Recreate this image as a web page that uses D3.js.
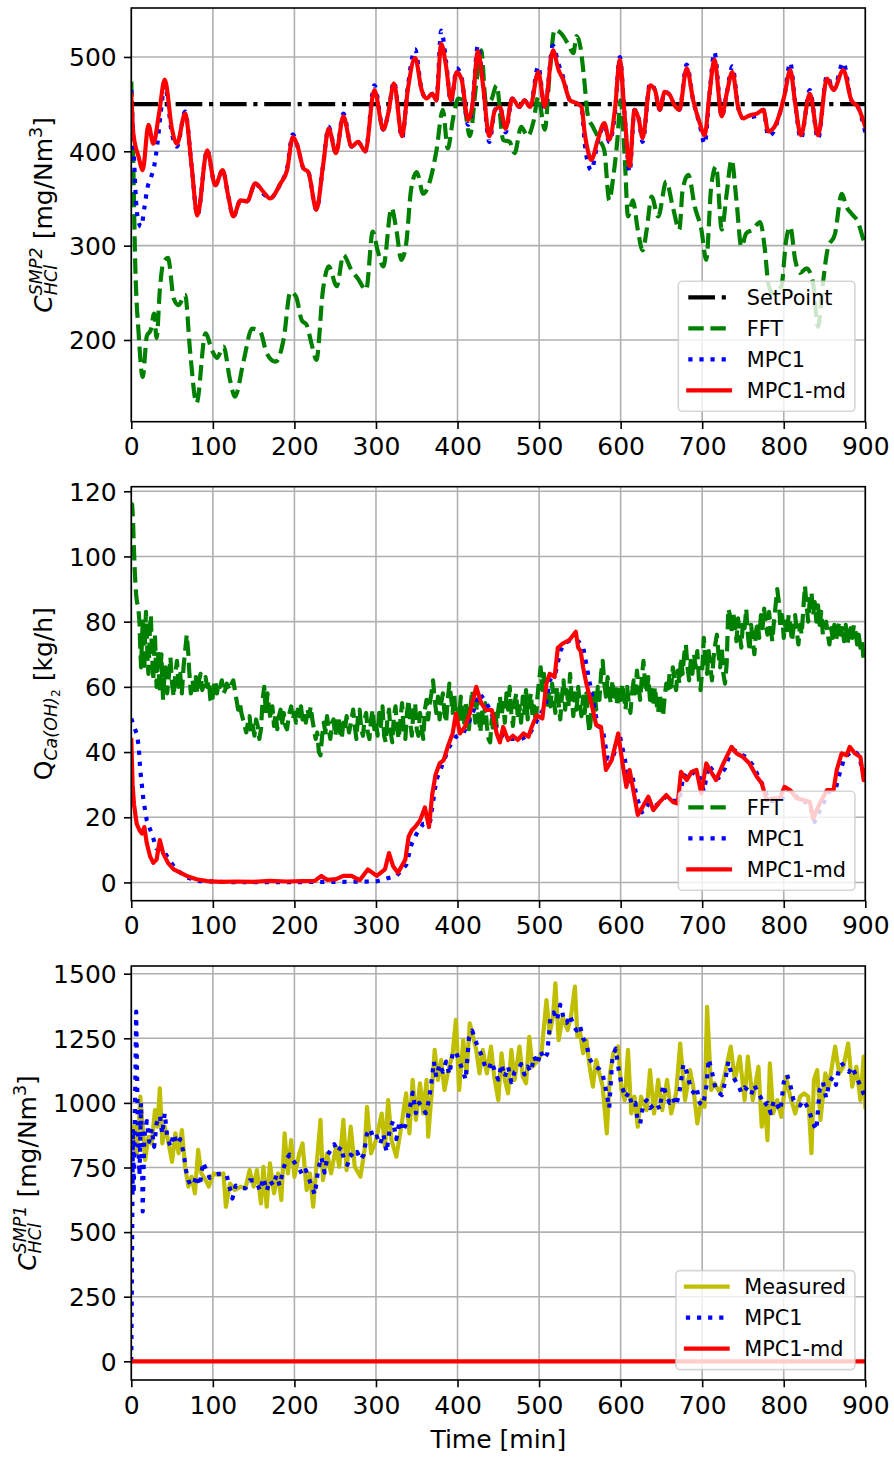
<!DOCTYPE html>
<html>
<head>
<meta charset="utf-8">
<script src="https://cdn.jsdelivr.net/npm/d3@7"></script>
<style>
  body { margin: 0; background: #fff; }
  svg { display: block; font-family: "DejaVu Sans", sans-serif; }
</style>
</head>
<body>
<svg id="fig" width="894" height="1457"></svg>
<script>
// ---- data: [time (min), value] ----
const xTicks = [0, 100, 200, 300, 400, 500, 600, 700, 800, 900];
const p1Ticks = [200, 300, 400, 500];
const p2Ticks = [0, 20, 40, 60, 80, 100, 120];
const p3Ticks = [0, 250, 500, 750, 1000, 1250, 1500];

const setPoint = [[0, 450], [900, 450]];

const p1FFT = [[0,474],[2.5,384],[4.5,292],[9,207],[14,161],[19,204],[24,211],[28,228],[31,202],[35,253],[39,281],[45,287],[52,244],[58,237],[66,248],[72,189],[80,133],[91,207],[99,189],[105,181],[113,193],[121,158],[127,140],[138,179],[148,212],[158,209],[166,186],[177,177],[187,202],[195,251],[202,246],[209,221],[215,216],[221,196],[227,179],[235,253],[242,278],[252,257],[260,290],[270,274],[278,265],[288,253],[296,315],[302,295],[309,278],[319,340],[325,317],[331,285],[337,302],[343,359],[350,378],[358,355],[366,368],[374,400],[382,444],[388,403],[395,437],[401,456],[407,454],[415,416],[423,472],[429,507],[435,451],[441,454],[448,470],[456,412],[464,410],[470,398],[478,426],[486,416],[493,431],[499,458],[507,423],[513,483],[519,529],[527,525],[536,513],[542,504],[546,522],[551,509],[555,479],[560,437],[566,426],[574,412],[580,401],[586,348],[591,373],[596,412],[600,454],[605,394],[609,331],[615,348],[621,317],[627,295],[632,317],[638,352],[646,331],[656,368],[664,341],[672,317],[676,359],[683,375],[691,341],[699,317],[705,285],[711,362],[717,384],[724,317],[730,355],[736,391],[742,348],[748,299],[754,313],[762,317],[771,325],[777,295],[781,260],[787,249],[797,257],[803,306],[808,320],[814,285],[820,271],[828,276],[836,260],[842,214],[848,260],[854,297],[863,313],[871,355],[877,341],[883,334],[891,325],[898,306],[900,302]];

const p1MPC1 = [[0,465],[3,400],[6,345],[9,325],[12,320],[16,340],[20,362],[24,372],[28,384],[32,408],[36,440],[41,470],[50,418],[56,405],[66,442],[74,384],[81,332],[93,401],[103,364],[112,380],[119,352],[125,331],[134,348],[142,347],[152,366],[162,355],[170,350],[183,366],[191,382],[198,418],[204,405],[211,382],[217,378],[227,338],[235,384],[242,426],[251,398],[260,440],[270,405],[278,410],[287,400],[298,470],[309,423],[315,440],[322,474],[332,414],[339,468],[348,508],[356,465],[362,456],[369,461],[374,454],[380,528],[386,495],[392,452],[399,488],[405,478],[413,428],[418,447],[425,512],[431,472],[439,410],[446,444],[452,447],[459,420],[467,456],[476,447],[482,454],[489,447],[499,490],[507,445],[517,512],[524,492],[529,480],[538,454],[546,451],[552,447],[556,408],[560,387],[564,380],[572,410],[580,428],[586,410],[593,440],[599,500],[605,437],[611,378],[617,444],[622,435],[627,410],[636,472],[642,465],[648,444],[654,463],[660,460],[666,449],[672,444],[681,492],[689,454],[697,428],[703,408],[709,461],[715,505],[724,437],[730,461],[737,490],[744,447],[750,435],[758,436],[767,438],[775,444],[781,416],[787,420],[795,440],[801,460],[808,494],[814,451],[821,413],[832,465],[842,413],[853,480],[861,465],[873,494],[883,454],[891,447],[900,420]];

const p1MPC1md = [[0,460],[2.5,419],[9,394],[14,380],[21,428],[27,408],[34,440],[41,476],[50,423],[56,408],[66,440],[74,384],[81,332],[93,401],[103,364],[112,380],[119,352],[125,331],[134,348],[142,347],[152,366],[162,357],[170,350],[183,366],[191,380],[198,415],[204,405],[211,382],[217,378],[227,338],[235,384],[242,424],[251,398],[260,437],[270,405],[278,410],[287,400],[298,465],[309,423],[315,440],[322,472],[332,416],[339,465],[348,499],[356,465],[362,456],[369,461],[374,454],[380,514],[386,490],[392,454],[399,484],[405,476],[413,433],[418,447],[425,506],[431,472],[439,416],[446,444],[452,447],[459,424],[467,456],[476,447],[482,454],[489,447],[499,484],[507,447],[517,507],[524,486],[529,477],[538,454],[546,451],[552,447],[556,419],[560,400],[564,391],[572,412],[580,430],[586,412],[593,444],[599,497],[605,437],[611,384],[617,444],[622,435],[627,414],[636,470],[642,465],[648,444],[654,463],[660,460],[666,449],[672,444],[681,488],[689,454],[697,430],[703,417],[709,461],[715,497],[724,437],[730,461],[737,484],[744,447],[750,435],[758,438],[767,440],[775,444],[781,421],[787,424],[795,440],[801,460],[808,486],[814,451],[821,417],[832,461],[842,417],[853,477],[861,465],[873,486],[883,454],[891,447],[900,426]];

const p2FFT = [[0,115],[1,116],[2,112],[3,104],[4,97],[5,92],[6,88],[7,86],[8,85],[9,83],[10,80],[11,72],[12,66],[13,74],[14,80],[15,70],[16,65],[17,77],[18,83],[19,76],[20,68],[21,64],[22,72],[23,79],[24,82],[25,73],[26,67],[27,62],[28,70],[29,76],[30,68],[31,60],[32,65],[33,71],[34,63],[35,58],[36,66],[37,70],[38,62],[39,56],[40,61],[42,66],[44,58],[46,63],[48,69],[50,61],[52,57],[54,64],[56,68],[58,60],[60,64],[62,58],[64,66],[66,71],[68,76],[70,70],[71,65],[73,58],[75,62],[77,59],[79,63],[81,58],[83,62],[85,64],[87,59],[89,61],[91,63],[93,60],[95,62],[97,56],[99,55],[101,60],[103,62],[105,58],[107,61],[109,60],[111,62],[113,58],[115,59],[117,61],[119,60],[121,59],[123,61],[125,62],[127,59],[129,56],[131,53],[133,55],[135,52],[137,50],[139,48],[141,46],[143,49],[145,51],[147,46],[149,48],[151,45],[153,50],[155,48],[157,44],[159,47],[161,56],[163,60],[165,52],[167,58],[169,53],[171,50],[173,54],[175,48],[177,52],[179,47],[181,51],[183,53],[185,49],[187,52],[189,48],[191,47],[193,51],[196,54],[198,50],[200,52],[202,49],[204,53],[206,51],[208,54],[210,50],[212,52],[214,49],[216,53],[218,51],[220,54],[222,50],[224,47],[226,44],[228,46],[230,40],[232,39],[234,45],[236,49],[238,46],[240,51],[242,47],[244,44],[246,49],[248,50],[250,45],[252,48],[254,51],[256,46],[258,44],[260,49],[262,47],[264,51],[267,46],[270,50],[272,53],[274,48],[276,44],[278,51],[280,53],[282,47],[284,45],[286,50],[288,52],[290,46],[292,44],[294,50],[296,53],[298,47],[300,49],[302,45],[304,52],[306,48],[308,54],[310,45],[312,43],[314,50],[316,53],[318,46],[320,43],[322,51],[324,54],[326,47],[328,44],[330,50],[332,55],[334,47],[336,44],[338,52],[340,56],[342,49],[344,45],[346,53],[348,55],[350,47],[352,45],[354,52],[356,48],[358,44],[360,53],[362,56],[364,50],[366,55],[368,58],[370,62],[372,56],[374,52],[376,57],[378,50],[380,55],[382,58],[384,52],[386,49],[388,56],[390,61],[392,57],[394,52],[396,58],[398,49],[400,54],[402,50],[404,57],[406,52],[408,48],[410,55],[412,51],[414,47],[416,54],[418,59],[420,53],[422,49],[424,56],[426,51],[428,46],[430,53],[432,49],[434,55],[436,48],[438,44],[440,43],[442,50],[444,46],[446,53],[448,48],[450,53],[452,57],[454,51],[456,55],[458,49],[460,58],[462,53],[464,60],[466,52],[468,48],[470,55],[472,58],[474,50],[476,54],[478,49],[480,57],[482,52],[484,59],[486,50],[488,55],[490,58],[492,51],[494,54],[496,49],[498,57],[500,62],[502,66],[504,59],[506,64],[508,58],[510,53],[512,58],[514,54],[516,61],[518,56],[520,52],[522,60],[524,55],[526,50],[528,57],[530,62],[532,53],[534,59],[536,54],[538,64],[540,57],[542,51],[544,58],[546,53],[548,60],[550,55],[552,51],[554,57],[556,52],[558,58],[560,50],[562,46],[564,52],[566,55],[568,59],[570,53],[572,60],[574,56],[576,64],[578,68],[580,61],[582,57],[584,63],[586,58],[588,55],[590,62],[592,57],[594,60],[596,54],[598,59],[600,56],[602,61],[604,57],[606,53],[608,60],[610,55],[612,52],[614,58],[616,62],[618,58],[620,65],[622,60],[624,56],[626,63],[628,68],[630,61],[632,58],[634,63],[636,56],[638,59],[640,54],[642,60],[644,55],[646,52],[648,58],[650,53],[652,51],[654,57],[656,61],[658,58],[660,64],[662,60],[664,66],[666,62],[668,59],[670,65],[672,61],[674,69],[676,64],[678,70],[680,73],[682,66],[684,62],[686,68],[688,64],[690,70],[692,66],[694,71],[696,62],[698,59],[700,65],[702,75],[704,68],[706,64],[708,71],[710,66],[712,62],[714,69],[716,73],[718,76],[720,70],[722,66],[724,72],[726,64],[728,61],[730,67],[732,84],[734,82],[736,77],[738,83],[740,79],[742,74],[744,81],[746,76],[748,72],[750,80],[752,78],[754,84],[756,76],[758,71],[760,79],[762,74],[764,70],[766,77],[768,80],[770,75],[772,82],[774,78],[776,84],[778,79],[780,76],[782,83],[784,78],[786,74],[788,80],[790,85],[792,90],[794,86],[796,78],[798,82],[800,75],[802,80],[804,76],[806,82],[808,79],[810,74],[812,78],[814,82],[816,77],[818,73],[820,79],[822,76],[824,84],[826,91],[828,85],[830,80],[832,87],[834,89],[836,82],[838,86],[840,80],[842,85],[844,79],[846,83],[848,76],[850,78],[852,80],[854,76],[856,73],[858,78],[860,75],[862,79],[864,74],[866,77],[868,80],[870,76],[872,78],[874,74],[876,79],[878,73],[880,76],[882,78],[884,75],[886,79],[888,77],[890,73],[892,76],[894,72],[896,74],[898,68],[900,70]];

const p2MPC1 = [[0,50.3],[3,48],[6.6,45.7],[9,42],[11,34.5],[15,25],[19,19],[25,15],[31,10.4],[39,10],[48,6.3],[56,3.8],[68,1.5],[84,0.4],[120,0.1],[200,0.1],[260,0.2],[300,0.3],[313,1.2],[325,2],[337,5.3],[344,12],[350,15],[358,18],[366,18],[374,31.4],[382,36.5],[390,41.6],[398,44.7],[407,45.7],[417,50.8],[427,58],[433,56],[440,53],[448,47],[455,45],[462,44],[470,44],[478,44],[487,45],[494,48],[500,51],[508,54],[513,62],[520,64],[526,71],[532,73.5],[540,74.5],[548,74],[554,72.3],[560,64],[566,56],[572,48],[578,47],[584,38],[590,38],[599,45],[605,38],[610,31],[614,33],[620,26],[626,21.5],[632,24],[640,23],[648,24.5],[656,26.5],[664,25],[672,25],[677,33],[684,32],[690,34],[696,33],[702,28],[708,36],[714,34],[720,32],[728,35],[734,39.5],[740,40.5],[746,39.5],[754,38.5],[762,36],[770,32],[776,29],[782,25],[790,25],[798,25.5],[804,28.5],[812,27.5],[820,25],[828,24.5],[834,22],[838,18.6],[846,23],[856,28],[864,29],[868,33],[874,38],[880,39.5],[886,40.5],[892,39],[897,34],[900,33]];

const p2MPC1md = [[0,43.7],[1.6,30],[3.3,24],[6.6,18],[10,16],[13,15],[16,17],[19,12],[23,8],[27,6],[31,7],[35,13],[39,9],[45,6],[52,4],[60,3],[68,2],[80,1],[93,0.4],[110,0.2],[130,0.3],[150,0.2],[170,0.5],[190,0.3],[210,0.4],[225,0.5],[233,2],[240,0.8],[251,1],[260,2],[270,2],[280,0.7],[290,4],[301,2],[311,4],[316,9],[321,5],[327,3],[336,7],[340,14],[344,16],[348,17],[354,19],[360,23],[365,17],[369,27],[373,33],[378,36.5],[383,37.5],[388,41.6],[394,45.7],[398,51.8],[403,45.7],[409,47.7],[415,51.8],[419,56],[423,60],[429,55],[435,52.9],[442,52.9],[448,45.7],[452,43],[456,47.7],[462,43.7],[468,45],[474,43.7],[481,45.7],[487,44.7],[491,47.7],[497,51.3],[504,50.3],[509,61],[513,64],[519,63],[523,72],[529,73.3],[537,74.3],[545,76.9],[548,72],[551,71],[554,66],[558,61],[566,52.9],[570,48.3],[576,47.7],[582,34.5],[589,37.5],[597,45.7],[603,35.5],[607,29.3],[611,34.5],[617,26.3],[621,20.7],[627,23.2],[634,26.3],[640,22.2],[648,24.7],[656,26.8],[664,24.7],[670,24.2],[674,33.9],[681,31.4],[687,33.9],[693,34.5],[699,27.3],[705,36.5],[711,33.9],[717,31.4],[726,36.5],[732,39.6],[736,41.6],[742,39.6],[750,38.5],[758,36.5],[767,32.4],[773,30.4],[779,25.3],[787,25.8],[795,25.8],[801,29.3],[808,28.3],[816,25.8],[824,25.3],[832,24.7],[836,19.6],[844,24.2],[853,28.3],[861,28.3],[865,34.5],[871,39.6],[877,39],[881,41.6],[887,39.6],[894,38.5],[898,31.4],[900,34.5]];

const p3Measured = [[0,908],[2.5,830],[4.5,908],[7,805],[11,1024],[14,908],[17,779],[21,869],[25,843],[29,972],[32,908],[35,1056],[38,843],[41,908],[45,856],[50,772],[54,882],[58,805],[62,895],[66,753],[70,676],[74,714],[78,650],[82,818],[86,727],[91,701],[95,676],[101,727],[107,721],[113,727],[116,598],[121,688],[127,663],[134,676],[140,669],[145,740],[150,676],[154,740],[159,611],[162,753],[166,598],[170,766],[175,650],[180,727],[184,624],[188,882],[192,727],[196,856],[200,714],[206,805],[210,843],[215,663],[219,727],[223,598],[227,753],[232,934],[235,701],[240,805],[245,727],[251,830],[255,753],[260,934],[264,740],[269,908],[274,753],[281,714],[286,818],[289,985],[294,805],[300,856],[307,959],[311,830],[315,1011],[319,856],[325,792],[331,908],[337,1037],[341,882],[345,1089],[349,934],[354,1076],[358,959],[362,1089],[364,869],[368,1024],[372,1205],[376,1089],[380,1166],[384,1050],[388,1114],[394,1192],[398,1321],[402,1050],[407,1243],[411,1114],[415,1308],[419,1256],[423,1205],[427,1114],[431,1205],[436,1114],[441,1218],[445,1101],[450,1011],[454,1192],[458,1089],[462,1037],[466,1205],[470,1089],[476,1218],[480,1101],[484,1076],[488,1256],[492,1140],[499,1166],[503,1192],[509,1398],[513,1269],[517,1333],[520,1463],[524,1243],[529,1333],[535,1282],[539,1333],[544,1450],[547,1256],[550,1282],[554,1192],[558,1243],[562,1140],[566,1063],[570,1166],[574,1114],[578,1063],[583,882],[587,1114],[591,1192],[597,1218],[601,1050],[605,1011],[609,1205],[613,959],[617,1024],[621,908],[625,1024],[632,972],[636,1127],[641,959],[646,1089],[651,972],[657,1089],[662,959],[668,1037],[673,1230],[679,1011],[685,1127],[689,1063],[694,921],[699,1011],[703,985],[706,1372],[711,1050],[715,1076],[722,1037],[728,1114],[735,1218],[740,1089],[746,1179],[752,1011],[756,1179],[762,1011],[769,1140],[773,908],[777,998],[780,856],[783,1153],[787,959],[792,1011],[797,946],[803,1101],[808,1024],[814,959],[820,1024],[825,1037],[830,1024],[834,805],[837,1089],[841,1127],[845,934],[851,1114],[855,1063],[859,1140],[863,1218],[868,1114],[873,1140],[879,1230],[884,1063],[889,1140],[894,1011],[898,1179],[900,985]];

const p3MPC1 = [[0,0],[2,900],[3,650],[5,1100],[6,1353],[8,900],[10,720],[12,1000],[14,580],[16,870],[19,930],[22,850],[25,900],[28,830],[31,920],[35,950],[38,880],[41,960],[44,870],[48,830],[52,880],[56,840],[60,860],[64,810],[67,740],[70,700],[73,680],[77,690],[80,720],[84,680],[88,770],[92,740],[96,710],[100,720],[106,725],[112,725],[117,720],[120,680],[124,630],[128,680],[134,670],[140,670],[145,700],[150,700],[154,690],[158,660],[162,710],[166,660],[170,700],[174,680],[178,720],[182,680],[186,740],[190,780],[194,800],[198,780],[202,760],[206,745],[210,720],[214,740],[218,705],[222,670],[225,645],[229,740],[233,790],[237,730],[241,800],[245,820],[249,840],[253,810],[257,830],[261,780],[265,760],[269,800],[273,790],[277,810],[281,780],[285,800],[289,880],[293,900],[297,860],[301,870],[305,840],[309,880],[313,810],[317,900],[321,930],[325,860],[329,930],[333,890],[337,920],[341,970],[345,1040],[349,960],[353,1000],[357,980],[361,960],[365,1010],[368,1080],[371,1160],[374,1100],[378,1150],[382,1120],[386,1160],[390,1110],[394,1190],[398,1200],[402,1160],[406,1130],[410,1090],[414,1250],[418,1280],[422,1240],[426,1210],[430,1180],[434,1140],[438,1130],[442,1160],[446,1120],[450,1090],[454,1150],[458,1100],[462,1140],[466,1080],[470,1120],[474,1130],[478,1150],[482,1110],[486,1140],[490,1120],[494,1180],[498,1150],[502,1200],[506,1170],[510,1190],[514,1330],[518,1350],[522,1320],[526,1380],[530,1330],[534,1310],[538,1340],[542,1300],[546,1280],[550,1300],[554,1250],[558,1230],[562,1170],[566,1150],[570,1140],[574,1130],[578,1110],[582,1050],[586,980],[590,1180],[594,1210],[598,1120],[602,1060],[606,1020],[610,1040],[614,990],[618,1000],[621,930],[624,920],[628,1000],[632,1010],[636,980],[640,990],[644,1000],[648,975],[652,1070],[656,1030],[660,1000],[664,1020],[668,990],[672,1040],[677,1150],[681,1120],[685,1070],[689,1040],[693,1060],[697,1000],[701,990],[705,1060],[708,1170],[712,1120],[716,1060],[720,1040],[724,1030],[728,1080],[732,1160],[736,1110],[740,1090],[744,1070],[748,1040],[752,1060],[756,1050],[760,1030],[764,1070],[768,1040],[772,1020],[776,990],[780,1000],[784,960],[788,1010],[792,990],[796,970],[800,1080],[804,1110],[808,1070],[812,1010],[816,1000],[820,990],[824,1010],[828,990],[832,960],[836,920],[840,895],[844,1050],[848,1080],[852,1020],[856,1080],[860,1100],[864,1070],[868,1140],[872,1150],[876,1130],[880,1120],[884,1140],[888,1110],[892,1080],[896,1050],[900,1020]];

const p3MPC1md = [[0, 0], [900, 0]];

// ---- styles (matplotlib look, lw 2pt at 150 dpi) ----
const LW = 4.17;
const DASHED = "15.4,6.7";
const DOTTED = "4.2,6.9";
const DASHDOT = "26.7,6.7,4.2,6.7";

const xLeft = 131.3, xRight = 865.3;
const svg = d3.select("#fig");
const x = d3.scaleLinear().domain([0, 900]).range([xLeft, xRight]);

function drawPanel(p) {
    let y = d3.scaleLinear().domain(p.yDomain).range([p.bottom, p.top]);
    let g = svg.append("g");

    // grid
    g.append("g").selectAll("line").data(xTicks).join("line")
        .attr("x1", d => x(d)).attr("x2", d => x(d))
        .attr("y1", p.top).attr("y2", p.bottom)
        .attr("stroke", "#b0b0b0").attr("stroke-width", 1.6);
    g.append("g").selectAll("line").data(p.yTicks).join("line")
        .attr("x1", xLeft).attr("x2", xRight)
        .attr("y1", d => y(d)).attr("y2", d => y(d))
        .attr("stroke", "#b0b0b0").attr("stroke-width", 1.6);

    // series, clipped to the axes box
    svg.append("clipPath").attr("id", "clip" + p.id).append("rect")
        .attr("x", xLeft).attr("y", p.top)
        .attr("width", xRight - xLeft).attr("height", p.bottom - p.top);
    let plot = g.append("g").attr("clip-path", "url(#clip" + p.id + ")");
    p.series.forEach(s => {
        let line = d3.line()
            .x(d => x(d[0])).y(d => y(d[1]))
            .curve(s.smooth ? d3.curveMonotoneX : d3.curveLinear);
        plot.append("path").datum(s.data)
            .attr("d", line)
            .attr("fill", "none")
            .attr("stroke", s.color)
            .attr("stroke-width", LW)
            .attr("stroke-dasharray", s.dash || null)
            .attr("stroke-linecap", s.dash ? "butt" : "square")
            .attr("stroke-linejoin", "round");
    });

    // frame
    g.append("rect")
        .attr("x", xLeft).attr("y", p.top)
        .attr("width", xRight - xLeft).attr("height", p.bottom - p.top)
        .attr("fill", "none").attr("stroke", "#000").attr("stroke-width", 1.6);

    // axes
    let xa = g.append("g").attr("transform", "translate(0," + p.bottom + ")")
        .call(d3.axisBottom(x).tickValues(xTicks).tickSize(7.3).tickSizeOuter(0).tickPadding(8.5));
    let ya = g.append("g").attr("transform", "translate(" + xLeft + ",0)")
        .call(d3.axisLeft(y).tickValues(p.yTicks).tickSize(7.3).tickSizeOuter(0).tickPadding(7.3).tickFormat(d3.format("d")));
    [xa, ya].forEach(a => {
        a.select(".domain").remove();
        a.attr("font-size", 25).attr("font-family", "DejaVu Sans");
        a.selectAll("line").attr("stroke", "#000").attr("stroke-width", 1.6);
        a.selectAll("text").attr("fill", "#000");
    });
    ya.selectAll("text").attr("dy", "0.35em");

    return y;
}

// rotated axis label built from pieces; stacked pieces share one x position
function mathLabel(cx, cy, parts) {
    let g = svg.append("g").attr("transform", "translate(" + cx + "," + cy + ") rotate(-90)");
    let inner = g.append("g");
    let pos = 0;
    parts.forEach(part => {
        if (part.gap) { pos += part.gap; return; }
        let w = 0;
        [].concat(part).forEach(s => {
            let t = inner.append("text")
                .attr("x", pos).attr("y", s.dy || 0)
                .style("font-size", s.size + "px")
                .style("font-style", s.it ? "italic" : "normal")
                .attr("fill", "#000")
                .text(s.t);
            w = Math.max(w, t.node().getComputedTextLength());
        });
        pos += w;
    });
    inner.attr("transform", "translate(" + (-pos / 2) + ",0)");
}

function drawLegend(p, items) {
    let right = xRight - 10.4, bottom = p.bottom - 10.4;
    let lg = svg.append("g").style("font-size", "20.8px");
    let box = lg.append("rect");
    let handles = lg.append("g");
    let labels = lg.selectAll("text").data(items).join("text")
        .attr("fill", "#000").text(d => d.label);
    let tw = d3.max(labels.nodes(), n => n.getComputedTextLength());
    let w = 10 + 41.7 + 16.7 + tw + 9;
    let h = items.length * 31 + 6;
    let left = right - w, top = bottom - h;
    box.attr("x", left).attr("y", top).attr("width", w).attr("height", h)
        .attr("rx", 4).attr("fill", "#fff").attr("fill-opacity", 0.8)
        .attr("stroke", "#cccccc").attr("stroke-opacity", 0.8).attr("stroke-width", 1.6);
    handles.selectAll("line").data(items).join("line")
        .attr("x1", left + 10).attr("x2", left + 51.7)
        .attr("y1", (d, i) => top + 16 + i * 31).attr("y2", (d, i) => top + 16 + i * 31)
        .attr("stroke", d => d.color).attr("stroke-width", LW)
        .attr("stroke-dasharray", d => d.dash || null)
        .attr("stroke-linecap", d => d.dash ? "butt" : "square");
    labels.attr("x", left + 68.4).attr("y", (d, i) => top + 16 + i * 31 + 7.5);
}

// ---- panel 1: outlet concentration ----
const panel1 = {
    id: 1, top: 8, bottom: 421.7, yDomain: [113.4, 551.9], yTicks: p1Ticks,
    series: [
        { data: setPoint, color: "#000", dash: DASHDOT },
        { data: p1FFT, color: "#008000", dash: DASHED, smooth: true },
        { data: p1MPC1, color: "#0000ff", dash: DOTTED, smooth: true },
        { data: p1MPC1md, color: "#ff0000", smooth: true }
    ]
};
// ---- panel 2: lime flow ----
const panel2 = {
    id: 2, top: 486.7, bottom: 900.7, yDomain: [-5.6, 121.4], yTicks: p2Ticks,
    series: [
        { data: p2FFT, color: "#008000", dash: DASHED },
        { data: p2MPC1, color: "#0000ff", dash: DOTTED },
        { data: p2MPC1md, color: "#ff0000" }
    ]
};
// ---- panel 3: inlet concentration ----
const panel3 = {
    id: 3, top: 966, bottom: 1380, yDomain: [-72.4, 1529.8], yTicks: p3Ticks,
    series: [
        { data: p3Measured, color: "#bfbf00" },
        { data: p3MPC1, color: "#0000ff", dash: DOTTED },
        { data: p3MPC1md, color: "#ff0000" }
    ]
};

[panel1, panel2, panel3].forEach(drawPanel);

drawLegend(panel1, [
    { label: "SetPoint", color: "#000", dash: DASHDOT },
    { label: "FFT", color: "#008000", dash: DASHED },
    { label: "MPC1", color: "#0000ff", dash: DOTTED },
    { label: "MPC1-md", color: "#ff0000" }
]);
drawLegend(panel2, [
    { label: "FFT", color: "#008000", dash: DASHED },
    { label: "MPC1", color: "#0000ff", dash: DOTTED },
    { label: "MPC1-md", color: "#ff0000" }
]);
drawLegend(panel3, [
    { label: "Measured", color: "#bfbf00" },
    { label: "MPC1", color: "#0000ff", dash: DOTTED },
    { label: "MPC1-md", color: "#ff0000" }
]);

// y labels
mathLabel(52, (panel1.top + panel1.bottom) / 2, [
    { t: "C", size: 25, it: true },
    [{ t: "HCl", size: 17.5, it: true, dy: 5 }, { t: "SMP2", size: 17.5, it: true, dy: -10 }],
    { gap: 8 },
    { t: "[mg/Nm", size: 25 },
    { t: "3", size: 17.5, dy: -10 },
    { t: "]", size: 25 }
]);
mathLabel(52, (panel2.top + panel2.bottom) / 2, [
    { t: "Q", size: 25 },
    { t: "Ca(OH)", size: 17.5, it: true, dy: 5 },
    { t: "2", size: 12.3, dy: 8 },
    { gap: 8 },
    { t: "[kg/h]", size: 25 }
]);
mathLabel(36, (panel3.top + panel3.bottom) / 2, [
    { t: "C", size: 25, it: true },
    [{ t: "HCl", size: 17.5, it: true, dy: 5 }, { t: "SMP1", size: 17.5, it: true, dy: -10 }],
    { gap: 8 },
    { t: "[mg/Nm", size: 25 },
    { t: "3", size: 17.5, dy: -10 },
    { t: "]", size: 25 }
]);

// x label
svg.append("text")
    .attr("x", (xLeft + xRight) / 2).attr("y", 1448)
    .attr("text-anchor", "middle").style("font-size", "25px").attr("fill", "#000")
    .text("Time [min]");
</script>
</body>
</html>
